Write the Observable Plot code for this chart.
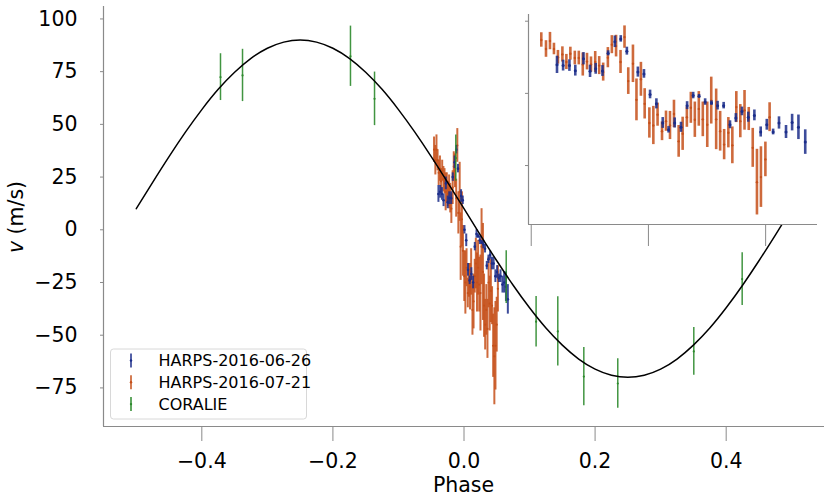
<!DOCTYPE html>
<html>
<head>
<meta charset="utf-8">
<script src="https://cdn.jsdelivr.net/npm/d3@7"></script>
<script src="https://cdn.jsdelivr.net/npm/@observablehq/plot@0.6"></script>
<style>
  body { margin: 0; background: #ffffff; }
  #wrap { position: relative; width: 831px; height: 504px; font-family: "DejaVu Sans", sans-serif; }
</style>
</head>
<body>
<div id="wrap"></div>
<script>
// ---------- data ----------
const seriesNames = ["HARPS-2016-06-26", "HARPS-2016-07-21", "CORALIE"];
const xTicks = [-0.4, -0.2, 0.0, 0.2, 0.4];
const yTicks = [-75, -50, -25, 0, 25, 50, 75, 100];
const insetXTicks = [-0.05, 0.0, 0.05];
const insetYTicks = [-20, 0, 20];

// Keplerian model curve
const curvePhase = [-0.5,-0.475,-0.45,-0.425,-0.4,-0.375,-0.35,-0.325,-0.3,-0.275,-0.25,-0.225,-0.2,-0.175,-0.15,-0.125,-0.1,-0.075,-0.05,-0.025,0,0.025,0.05,0.075,0.1,0.125,0.15,0.175,0.2,0.225,0.25,0.275,0.3,0.325,0.35,0.375,0.4,0.425,0.45,0.475,0.5];
const curveV = [10,22.5,34.7,46.3,57.0,66.6,74.7,81.3,86.1,89.0,90,89.0,86.1,81.3,74.7,66.6,57.0,46.3,34.7,22.5,10,-2.5,-14.7,-26.3,-37.0,-46.6,-54.7,-61.3,-66.1,-69.0,-70,-69.0,-66.1,-61.3,-54.7,-46.6,-37.0,-26.3,-14.7,-2.5,10];

// HARPS-2016-06-26
const harpsAPhase = [-0.0390,-0.0364,-0.0337,-0.0312,-0.0277,-0.0249,-0.0225,-0.0196,-0.0172,-0.0143,-0.0118,-0.0092,-0.0045,-0.0019,0.0007,0.0034,0.0061,0.0086,0.0112,0.0139,0.0165,0.0191,0.0216,0.0242,0.0269,0.0295,0.0321,0.0348,0.0373,0.0399,0.0426,0.0452,0.0479,0.0505,0.0532,0.0557,0.0587,0.0613,0.0640,0.0669];
const harpsAV = [17,18,17,14,22,13,15,15,25,32,38,29,16,14,0,-5,-19,-24,-21,-25,-8,-2,-3,-5,-6,-7,-9,-17,-14,-12,-16,-16,-22,-20,-23,-22,-26,-25,-27,-33];
const harpsAErr = [4,3,3,3,3,3,3,3,2,3,2,2,3,2,2,3,3,2,3,3,2,2,1,2,1,2,2,2,2,2,3,3,3,3,2,3,4,5,7,7];
const harpsAInsetV = [7.9,7.7,7.7,6.3,9.6,6.1,6.8,6.2,11.1,14.3,15.1,11.7,5.9,5.4,-0.3,-2.9,-8.2,-10.1,-8.2,-9.4,-3.4,-0.6,-0.8,-2.4,-2.7,-3.4,-3.4,-8.7,-6.8,-5.0,-6.6,-6.1,-10.7,-8.7,-10.7,-8.2,-10.7,-8.1,-9.4,-13.5];
const harpsAInsetErr = [2.4,1.5,1.6,1.5,1.7,1.7,1.5,1.5,0.7,1.6,0.9,1.1,1.4,1.2,1.2,1.4,1.5,0.9,1.4,1.4,1.1,0.9,0.5,0.9,0.6,1.2,0.9,1.1,1.2,1.2,1.4,1.5,1.4,1.5,0.8,1.7,1.8,2.3,3.4,3.4];

// HARPS-2016-07-21
const harpsBPhase = [-0.0457,-0.0437,-0.0420,-0.0403,-0.0386,-0.0367,-0.0350,-0.0333,-0.0314,-0.0297,-0.0280,-0.0262,-0.0245,-0.0227,-0.0210,-0.0193,-0.0173,-0.0156,-0.0138,-0.0119,-0.0102,-0.0086,-0.0066,-0.0051,-0.0032,-0.0016,0.0004,0.0021,0.0039,0.0058,0.0075,0.0092,0.0109,0.0129,0.0146,0.0164,0.0181,0.0198,0.0215,0.0232,0.0251,0.0268,0.0289,0.0306,0.0323,0.0341,0.0358,0.0375,0.0392,0.0410,0.0428,0.0445,0.0463,0.0480,0.0499,0.0517];
const harpsBV = [38,33,38,33,27,29,23,28,24,23,18,20,17,18,15,10,20,30,28,15,40,8,18,-8,5,-10,-22,-25,-18,-30,-24,-27,-20,-38,-34,-22,-16,-25,-18,-26,-30,-8,-20,-36,-45,-38,-47,-25,-35,-29,-36,-55,-60,-55,-45,-28];
const harpsBErr = [6,7,7,5,6,6,6,5,6,6,9,7,6,8,7,7,8,7,8,9,8,10,14,16,13,12,12,15,9,7,8,11,11,12,13,8,12,14,13,13,18,18,23,15,12,12,14,12,13,15,9,15,23,21,13,11];
const harpsBInsetV = [14.8,12.3,14.5,12.3,10.0,10.8,8.7,11.0,9.8,9.8,8.0,8.8,8.0,8.7,7.7,5.9,9.9,13.5,13.1,8.7,15.6,3.4,8.2,-1.8,3.9,-2.9,-8.2,-8.9,-5.9,-10.5,-7.7,-8.9,-5.7,-13.3,-11.2,-6.6,-4.0,-7.3,-4.3,-7.2,-8.7,-2.0,-7.2,-10.5,-14.2,-10.9,-14.4,-3.8,-7.7,-4.7,-7.1,-15.1,-24.6,-23.2,-18.3,-6.6];
const harpsBInsetErr = [2.0,2.3,2.4,1.6,1.9,2.1,2.1,1.8,1.9,1.9,3.2,2.3,2.1,2.9,2.5,2.5,2.8,2.5,3.0,3.2,3.1,3.7,5.2,5.8,4.7,4.2,4.2,5.3,3.2,2.6,2.8,3.9,3.8,4.4,4.6,2.8,4.3,4.9,4.8,4.8,6.3,6.5,8.4,5.5,4.2,4.2,5.1,4.3,4.6,5.5,3.2,5.4,9.1,8.4,4.8,4.0];

// CORALIE
const coraliePhase = [-0.3715,-0.3379,-0.1732,-0.1365,-0.0125,0.0644,0.110,0.1431,0.1828,0.2346,0.3506,0.4244];
const coralieV = [72.4,73.2,82.3,62.1,34,-22.5,-43.6,-48.2,-69.6,-72.9,-57.7,-23.4];
const coralieErr = [11.1,12.4,14.3,12.7,11,12.5,12,16.4,13.8,11.7,11.3,12.5];

// ---------- styling ----------
const colA = "#1b2d8a", colB = "#c5501a", colC = "#2c8a2c";
const spine = "#8a8a8a";
const font = "DejaVu Sans, sans-serif";

const rows = (p, v, e) => p.map((x, i) => ({p: x, v: v[i], e: e[i]}));
const A = rows(harpsAPhase, harpsAV, harpsAErr);
const B = rows(harpsBPhase, harpsBV, harpsBErr);
const C = rows(coraliePhase, coralieV, coralieErr);
const Ai = rows(harpsAPhase, harpsAInsetV, harpsAInsetErr);
const Bi = rows(harpsBPhase, harpsBInsetV, harpsBInsetErr);
const curve = curvePhase.map((p, i) => ({p, v: curveV[i]}));

const xDom = [-0.55, 0.55], yDom = [-93.3, 105.9];

function errMarks(data, color, sw, op, r) {
  return [
    Plot.ruleX(data, {x: "p", y1: d => d.v - d.e, y2: d => d.v + d.e, stroke: color, strokeWidth: sw, strokeOpacity: op}),
    Plot.dot(data, {x: "p", y: "v", r: r, fill: color, stroke: "none"})
  ];
}

const main = Plot.plot({
  width: 831, height: 504,
  marginLeft: 103, marginRight: 7, marginTop: 6, marginBottom: 78,
  style: {fontFamily: font, fontSize: "20.5px", background: "white", color: "black", overflow: "visible"},
  x: {domain: xDom},
  y: {domain: yDom},
  marks: [
    Plot.axisX({ticks: xTicks, tickFormat: d3.format(".1f"), tickSize: 15, tickPadding: 12, stroke: spine, fill: "black", label: null, fontSize: 20.5}),
    Plot.axisY({ticks: yTicks, tickFormat: d3.format("d"), tickSize: 3, tickPadding: 23, stroke: spine, fill: "black", label: null, fontSize: 20.5}),
    ...errMarks(B, colB, 2, 0.85, 1.1),
    ...errMarks(A, colA, 2, 0.85, 1.3),
    ...errMarks(C, colC, 1.5, 0.9, 1.1),
    Plot.line(curve, {x: "p", y: "v", stroke: "black", strokeWidth: 1.5, curve: "natural"}),
    Plot.ruleX([xDom[0]], {stroke: spine, strokeWidth: 1.2}),
    Plot.ruleY([yDom[0]], {stroke: spine, strokeWidth: 1.2})
  ]
});
document.getElementById("wrap").appendChild(main);

// axis titles and legend
const svg = d3.select(main);
svg.append("text").attr("x", 463.5).attr("y", 492).attr("text-anchor", "middle")
  .attr("font-family", font).attr("font-size", 20.5).attr("fill", "black").text("Phase");
const yl = svg.append("text").attr("transform", "translate(23,217) rotate(-90)").attr("text-anchor", "middle")
  .attr("font-family", font).attr("font-size", 20.5).attr("fill", "black");
yl.append("tspan").attr("font-style", "italic").text("v");
yl.append("tspan").text(" (m/s)");

const lg = svg.append("g");
lg.append("rect").attr("x", 110.5).attr("y", 349).attr("width", 196).attr("height", 70).attr("rx", 3)
  .attr("fill", "white").attr("fill-opacity", 0.8).attr("stroke", "#d8d8d8");
const lgColors = [colA, colB, colC];
seriesNames.forEach((name, i) => {
  const cy = 360.5 + i * 21.8;
  lg.append("line").attr("x1", 131).attr("x2", 131).attr("y1", cy - 7).attr("y2", cy + 7)
    .attr("stroke", lgColors[i]).attr("stroke-width", 1.5);
  lg.append("circle").attr("cx", 131).attr("cy", cy).attr("r", 1.2).attr("fill", lgColors[i]);
  lg.append("text").attr("x", 158.5).attr("y", cy).attr("dominant-baseline", "central")
    .attr("text-anchor", "start")
    .attr("font-family", font).attr("font-size", 16).attr("fill", "black").text(name);
});

// ---------- inset (nested inside the main SVG) ----------
const ixDom = [-0.05116, 0.07213], iyDom = [-36.34, 21.86];
const inset = Plot.plot({
  width: 303, height: 250,
  marginLeft: 10, marginRight: 4, marginTop: 10, marginBottom: 30,
  style: {fontFamily: font, fontSize: "10px", background: "none", overflow: "visible"},
  x: {domain: ixDom},
  y: {domain: iyDom},
  marks: [
    Plot.rect([0], {x1: ixDom[0], x2: ixDom[1], y1: iyDom[0], y2: iyDom[1], fill: "#ffffff", stroke: null}),
    Plot.axisX({ticks: insetXTicks, tickFormat: () => "", tickSize: 22, stroke: spine, label: null}),
    Plot.axisY({ticks: insetYTicks, tickFormat: () => "", tickSize: 3, stroke: spine, label: null}),
    ...errMarks(Bi, colB, 2.6, 0.85, 1.2),
    ...errMarks(Ai, colA, 2.6, 0.85, 1.5),
    Plot.ruleX([ixDom[0]], {stroke: spine, strokeWidth: 1.2}),
    Plot.ruleY([iyDom[0]], {stroke: spine, strokeWidth: 1.2})
  ]
});
inset.setAttribute("x", 518);
inset.setAttribute("y", 4);
inset.style.width = "303px";
inset.style.height = "250px";
inset.style.maxWidth = "none";
main.appendChild(inset);
</script>
</body>
</html>
